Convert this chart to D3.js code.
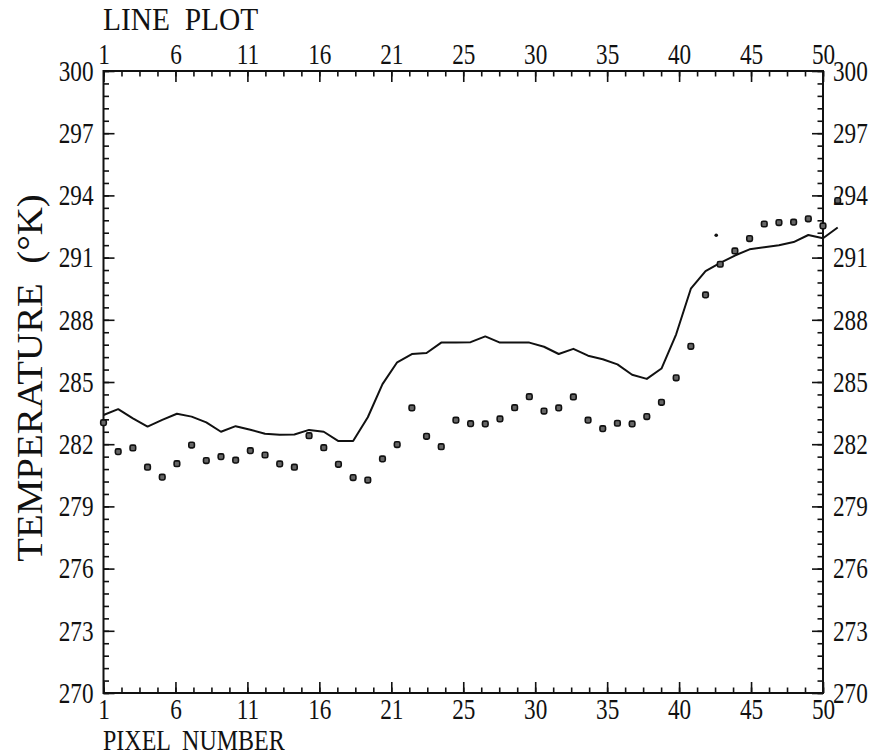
<!DOCTYPE html>
<html>
<head>
<meta charset="utf-8">
<script src="https://cdn.jsdelivr.net/npm/d3@7"></script>
<style>
  body { margin: 0; background: #fff; }
  svg { display: block; }
  text { font-family: "Liberation Serif", "Times New Roman", serif; fill: #111; }
  .axis path { display: none; }
  .axis line { stroke: #111; stroke-width: 1.6px; }
</style>
</head>
<body>
<div id="chart"></div>
<script>
// pixel index along the scan line (51st point falls just past the frame)
const pixels = [1, 2, 3, 4, 5, 6, 7, 8, 9, 10, 11, 12, 13, 14, 15, 16, 17, 18, 19, 20,
  21, 22, 23, 24, 25, 26, 27, 28, 29, 30, 31, 32, 33, 34, 35, 36, 37, 38, 39, 40,
  41, 42, 43, 44, 45, 46, 47, 48, 49, 50, 51];

// solid curve
const lineTemps = [283.41, 283.69, 283.25, 282.85, 283.17, 283.47, 283.33, 283.05, 282.6, 282.87,
  282.7, 282.5, 282.45, 282.47, 282.69, 282.6, 282.15, 282.15, 283.3, 284.9,
  285.95, 286.35, 286.4, 286.9, 286.9, 286.92, 287.2, 286.9, 286.9, 286.9,
  286.7, 286.35, 286.6, 286.27, 286.1, 285.85, 285.35, 285.15, 285.65, 287.3,
  289.5, 290.35, 290.75, 291.1, 291.4, 291.5, 291.6, 291.75, 292.09, 291.93, 292.45];

// plotted symbols
const pointTemps = [283.04, 281.64, 281.82, 280.89, 280.41, 281.06, 281.96, 281.21, 281.4, 281.23,
  281.69, 281.48, 281.05, 280.89, 282.41, 281.83, 281.03, 280.39, 280.27, 281.29,
  281.98, 283.75, 282.38, 281.88, 283.16, 282.99, 282.98, 283.22, 283.76, 284.29,
  283.6, 283.75, 284.28, 283.16, 282.75, 283.01, 282.98, 283.33, 284.02, 285.2,
  286.72, 289.2, 290.68, 291.32, 291.92, 292.62, 292.69, 292.71, 292.87, 292.53, 293.75];

// lone small dot above the curve
const extraPixels = [43];
const extraTemps = [292.08];

const xTickValues = [1, 5.9, 10.8, 15.7, 20.6, 25.5, 30.4, 35.3, 40.2, 45.1, 50];
const xTickLabels = ["1", "6", "11", "16", "21", "25", "30", "35", "40", "45", "50"];
const yTickValues = [270, 273, 276, 279, 282, 285, 288, 291, 294, 297, 300];

const width = 885, height = 756;
const plot = {left: 103.5, right: 823, top: 71, bottom: 693};
const squeeze = 0.8;
const serif = '"Liberation Serif", "Times New Roman", serif';

const svg = d3.select("#chart").append("svg")
  .attr("width", width)
  .attr("height", height);

const x = d3.scaleLinear().domain([1, 50]).range([plot.left, plot.right]);
const y = d3.scaleLinear().domain([270, 300]).range([plot.bottom, plot.top]);

const xMinor = d3.range(1, 50.01, 1.225);
const yMinor = d3.range(270, 300.01, 0.6);

// narrow the serif glyphs like the original lettering
function narrow(sel) {
  sel.selectAll(".tick text").each(function() {
    const t = d3.select(this);
    const tx = +t.attr("x") || 0, ty = +t.attr("y") || 0;
    t.attr("transform", `translate(${tx},${ty}) scale(${squeeze},1)`)
      .attr("x", 0).attr("y", 0);
  });
}

function tickLabel(d) {
  return xTickLabels[xTickValues.indexOf(d)];
}

// minor ticks
svg.append("g").attr("class", "axis")
  .attr("transform", `translate(0,${plot.bottom})`)
  .call(d3.axisBottom(x).tickValues(xMinor).tickSize(-5.5).tickFormat(""));
svg.append("g").attr("class", "axis")
  .attr("transform", `translate(0,${plot.top})`)
  .call(d3.axisTop(x).tickValues(xMinor).tickSize(-5.5).tickFormat(""));
svg.append("g").attr("class", "axis")
  .attr("transform", `translate(${plot.left},0)`)
  .call(d3.axisLeft(y).tickValues(yMinor).tickSize(-5.5).tickFormat(""));
svg.append("g").attr("class", "axis")
  .attr("transform", `translate(${plot.right},0)`)
  .call(d3.axisRight(y).tickValues(yMinor).tickSize(-5.5).tickFormat(""));

// major ticks with labels
const axisFont = 29;
const bottomAxis = svg.append("g").attr("class", "axis")
  .attr("transform", `translate(0,${plot.bottom})`)
  .call(d3.axisBottom(x).tickValues(xTickValues).tickSize(-11).tickPadding(5).tickFormat(tickLabel));
const topAxis = svg.append("g").attr("class", "axis")
  .attr("transform", `translate(0,${plot.top})`)
  .call(d3.axisTop(x).tickValues(xTickValues).tickSize(-11).tickPadding(7).tickFormat(tickLabel));
const leftAxis = svg.append("g").attr("class", "axis")
  .attr("transform", `translate(${plot.left},0)`)
  .call(d3.axisLeft(y).tickValues(yTickValues).tickSize(-11).tickPadding(10).tickFormat(d3.format("d")));
const rightAxis = svg.append("g").attr("class", "axis")
  .attr("transform", `translate(${plot.right},0)`)
  .call(d3.axisRight(y).tickValues(yTickValues).tickSize(-11).tickPadding(10).tickFormat(d3.format("d")));

[bottomAxis, topAxis, leftAxis, rightAxis].forEach(a => {
  a.attr("font-family", serif).attr("font-size", axisFont);
  a.selectAll("text").attr("font-family", serif).attr("font-size", axisFont);
  narrow(a);
});

// frame
svg.append("rect")
  .attr("x", plot.left).attr("y", plot.top)
  .attr("width", plot.right - plot.left)
  .attr("height", plot.bottom - plot.top)
  .attr("fill", "none")
  .attr("stroke", "#111")
  .attr("stroke-width", 2);

// curve
const line = d3.line()
  .x((d, i) => x(pixels[i]))
  .y(d => y(d));

svg.append("path")
  .datum(lineTemps)
  .attr("fill", "none")
  .attr("stroke", "#111")
  .attr("stroke-width", 2)
  .attr("stroke-linejoin", "round")
  .attr("d", line);

// symbols
svg.selectAll(".pt")
  .data(pointTemps)
  .enter().append("rect")
  .attr("class", "pt")
  .attr("x", (d, i) => x(pixels[i]) - 2.8)
  .attr("y", d => y(d) - 2.8)
  .attr("width", 5.6)
  .attr("height", 5.6)
  .attr("rx", 1.6)
  .attr("fill", "#666")
  .attr("stroke", "#111")
  .attr("stroke-width", 1.6);

svg.selectAll(".extra")
  .data(extraTemps)
  .enter().append("circle")
  .attr("class", "extra")
  .attr("cx", (d, i) => x(extraPixels[i]) - 4)
  .attr("cy", d => y(d))
  .attr("r", 1.8)
  .attr("fill", "#111");

// titles
function label(txt, tx, ty, size, sx, rot) {
  svg.append("text")
    .attr("transform", `translate(${tx},${ty}) rotate(${rot || 0}) scale(${sx},1)`)
    .attr("font-family", serif)
    .attr("font-size", size)
    .attr("text-anchor", rot ? "middle" : "start")
    .style("white-space", "pre")
    .text(txt);
}

label("LINE  PLOT", 103, 30, 32, 0.92);
label("PIXEL  NUMBER", 103, 750, 30, 0.8);
label("TEMPERATURE  (°K)", 42, 378, 36, 1.08, -90);
</script>
</body>
</html>
